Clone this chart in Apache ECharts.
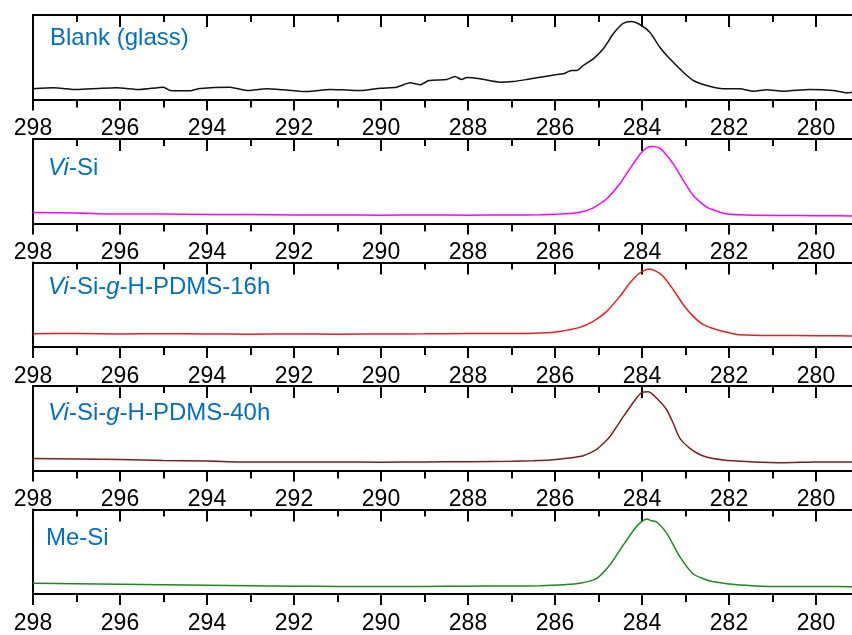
<!DOCTYPE html>
<html><head><meta charset="utf-8">
<script src="https://cdn.jsdelivr.net/npm/echarts@6/dist/echarts.min.js"></script>
<style>html,body{margin:0;padding:0;background:#fff}#c{width:852px;height:635px}</style>
</head><body><div id="c"></div>
<script>
// Binding energy (eV) / relative intensity pairs
const blank = [[298,10.7],[297.53,11.7],[297.0,10],[296.5,11],[296.08,11.7],[295.54,10],[295.0,12.3],[294.85,9],[294.39,8.7],[294.16,11],[293.47,12.3],[293.09,9],[292.63,10.7],[292.25,9.7],[291.86,8.3],[291.7,8],[291.17,10],[290.8,9.5],[290.41,9],[290.02,11.3],[289.64,12.3],[289.33,16.7],[289.1,14.7],[288.9,19],[288.49,20],[288.3,23],[288.15,20],[288.03,22],[287.72,20.7],[287.26,17.3],[286.96,18],[286.65,20],[286.19,23.3],[285.96,25],[285.81,25.7],[285.62,29],[285.5,29],[285.35,34],[285.12,40.7],[284.89,50.7],[284.66,65.7],[284.47,75],[284.35,77.5],[284.24,78],[284.05,75],[283.82,67.3],[283.59,52.3],[283.36,40.7],[283.05,27.3],[282.82,19],[282.51,14],[282.13,10.7],[281.75,10.7],[281.44,8.3],[281.13,9.7],[280.75,8.3],[280.14,10],[279.6,9],[279.29,6.7],[279.0,8.5]];
const viSi = [[298,11],[297,10.5],[296,9.5],[295,9.5],[294,9],[293,9],[292,8.5],[291,8.5],[290,8.3],[289,8.5],[288,8.3],[287,8.5],[286.34,8.8],[285.9,9.5],[285.58,10.3],[285.3,12.5],[285.12,15.7],[284.81,24.7],[284.51,39.7],[284.28,54.7],[284.05,69],[283.89,75.7],[283.74,77],[283.6,75.5],[283.51,72.3],[283.28,59.7],[283.05,43],[282.82,28],[282.51,16.3],[282.13,10.3],[281.75,8.7],[281,8],[280,7.8],[279,7.5]];
const pdms16 = [[298,13.3],[297,13.5],[296,13],[295,13.3],[294,13],[293,12.8],[292,13],[291,12.8],[290,13],[289,13.2],[288,13.5],[287,13.5],[286.34,14],[285.89,15.6],[285.43,19.6],[285.12,25.6],[284.81,35.6],[284.51,50.6],[284.28,64],[284.05,74],[283.85,78],[283.7,76.3],[283.51,70.6],[283.28,57.3],[283.05,42.3],[282.82,30.6],[282.59,22.3],[282.28,17.3],[281.9,13.3],[281.75,12.3],[281,11.5],[280,11.3],[279,11]];
const pdms40 = [[298,12],[297,11.5],[296,11],[295,10],[294,9.5],[293,8.5],[292,8.5],[291,8.5],[290,8.3],[289,8.5],[288,8.8],[287,9.2],[286.5,9.8],[286.11,10.5],[285.73,12.2],[285.35,14.8],[285.04,21.2],[284.74,33.8],[284.43,53.8],[284.16,70.5],[284.01,77.8],[283.85,78.8],[283.66,72.2],[283.43,60.5],[283.28,47],[283.13,32.2],[282.9,22.2],[282.59,14.5],[282.13,10.5],[281.52,8.8],[280.75,7.8],[280,8.5],[279,8.5]];
const meSi = [[298,10.7],[297,10.3],[296,9.8],[295,9.3],[294,8.8],[293,8.3],[292,7.8],[291,7.6],[290,7.5],[289,7.6],[288,7.8],[287,8],[286.34,8.3],[285.8,9.3],[285.43,10.7],[285.04,15.7],[284.74,29],[284.43,49],[284.16,65.7],[284.01,72.3],[283.89,75],[283.78,73.3],[283.66,72],[283.43,60.7],[283.13,37.3],[282.82,20],[282.44,13],[281.98,10],[281.75,9],[281,7.5],[280,7.5],[279,7.3]];

const panelNames = ['Blank (glass)', '{i|Vi}-Si', '{i|Vi}-Si-{i|g}-H-PDMS-16h', '{i|Vi}-Si-{i|g}-H-PDMS-40h', 'Me-Si'];
const panelData = [blank, viSi, pdms16, pdms40, meSi];
const lineColors = ['#111111', '#ff00ff', '#ee1c1c', '#7a1f1f', '#1a8a1a'];

const tops = [15, 139, 262.5, 386, 509.5];
const panelH = 84.5;
const titleTops = [26.5, 156, 275, 401.5, 526];
const titleLefts = [50, 48, 48, 48, 46];
const FONT = '"Liberation Sans", Arial, Helvetica, sans-serif';

const grid = [], xAxis = [], yAxis = [], series = [], title = [];
for (let i = 0; i < 5; i++) {
  grid.push({left: 33, top: tops[i], width: 870, height: panelH, outerBoundsMode: 'none', containLabel: false});
  const common = {type: 'value', gridIndex: i, min: 278, max: 298, interval: 2, inverse: true,
    splitLine: {show: false},
    axisLine: {show: true, lineStyle: {color: '#000', width: 2}}};
  xAxis.push(Object.assign({}, common, {position: 'bottom',
    axisTick: {show: true, inside: false, length: 11, lineStyle: {color: '#000', width: 2}},
    minorTick: {show: true, splitNumber: 2, length: 8, lineStyle: {color: '#000', width: 2}},
    axisLabel: {show: true, color: '#000', fontSize: 23, fontFamily: FONT, margin: 18,
      showMinLabel: true, showMaxLabel: true}}));
  xAxis.push(Object.assign({}, common, {position: 'top',
    axisTick: {show: true, inside: true, length: 12, lineStyle: {color: '#000', width: 2}},
    minorTick: {show: true, splitNumber: 2, length: 7, lineStyle: {color: '#000', width: 2}},
    axisLabel: {show: false}}));
  yAxis.push({type: 'value', gridIndex: i, min: 0, max: panelH,
    axisLine: {show: true, lineStyle: {color: '#000', width: 2}},
    axisTick: {show: false}, axisLabel: {show: false}, splitLine: {show: false}});
  series.push({type: 'line', xAxisIndex: 2 * i, yAxisIndex: i, data: panelData[i],
    showSymbol: false, symbol: 'none', smooth: 0.2, animation: false,
    lineStyle: {color: lineColors[i], width: 1.5}});
  title.push({text: panelNames[i], left: titleLefts[i], top: titleTops[i], padding: 0,
    textStyle: {color: '#0070c0', fontSize: 24, fontWeight: 'normal', fontFamily: FONT,
      rich: {i: {fontStyle: 'italic', color: '#0070c0', fontSize: 24, fontFamily: FONT}}}});
}

const chart = echarts.init(document.getElementById('c'), null, {renderer: 'canvas'});
chart.setOption({animation: false, backgroundColor: '#fff', title, grid, xAxis, yAxis, series});
</script>
</body></html>
